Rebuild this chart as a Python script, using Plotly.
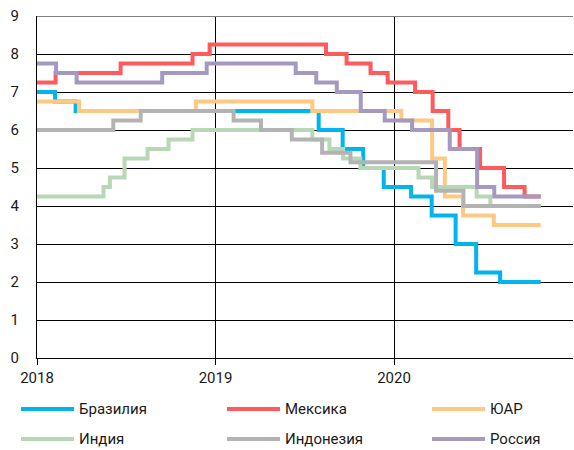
import plotly.graph_objects as go

END = "2020-10-27"

names = ["Бразилия", "Мексика", "ЮАР", "Индия", "Индонезия", "Россия"]
colors = ["#00B4EE", "#FF5A5C", "#FFC983", "#B8D8B5", "#B3B3B3", "#A599C1"]

brazil_dates = ["2018-01-01", "2018-02-07", "2018-03-21", "2019-07-31", "2019-09-18", "2019-10-30",
                "2019-12-11", "2020-02-05", "2020-03-18", "2020-05-06", "2020-06-17", "2020-08-05", END]
brazil_vals = [7.0, 6.75, 6.5, 6.0, 5.5, 5.0, 4.5, 4.25, 3.75, 3.0, 2.25, 2.0, 2.0]

mexico_dates = ["2018-01-01", "2018-02-08", "2018-06-21", "2018-11-15", "2018-12-20", "2019-08-15",
                "2019-09-26", "2019-11-14", "2019-12-19", "2020-02-13", "2020-03-20", "2020-04-21",
                "2020-05-14", "2020-06-25", "2020-08-13", "2020-09-24", END]
mexico_vals = [7.25, 7.5, 7.75, 8.0, 8.25, 8.0, 7.75, 7.5, 7.25, 7.0, 6.5, 6.0, 5.5, 5.0, 4.5, 4.25, 4.25]

sa_dates = ["2018-01-01", "2018-03-28", "2018-11-22", "2019-07-18", "2020-01-16", "2020-03-19",
            "2020-04-14", "2020-05-21", "2020-07-23", END]
sa_vals = [6.75, 6.5, 6.75, 6.5, 6.25, 5.25, 4.25, 3.75, 3.5, 3.5]

india_dates = ["2018-01-01", "2018-05-17", "2018-05-30", "2018-06-29", "2018-08-15", "2018-09-27",
               "2018-11-15", "2019-07-18", "2019-08-22", "2019-09-19", "2019-10-24", "2020-02-20",
               "2020-03-19", "2020-06-18", "2020-07-16", END]
india_vals = [4.25, 4.5, 4.75, 5.25, 5.5, 5.75, 6.0, 5.75, 5.5, 5.25, 5.0, 4.75, 4.5, 4.25, 4.0, 4.0]

indonesia_dates = ["2018-01-01", "2018-06-06", "2018-08-01", "2019-02-07", "2019-04-04", "2019-06-06",
                   "2019-08-07", "2019-10-04", "2020-03-27", "2020-05-22", END]
indonesia_vals = [6.0, 6.25, 6.5, 6.25, 6.0, 5.75, 5.4, 5.15, 4.4, 4.0, 4.0]

russia_dates = ["2018-01-01", "2018-02-09", "2018-03-23", "2018-09-14", "2018-12-14", "2019-06-14",
                "2019-07-26", "2019-09-06", "2019-10-25", "2019-12-13", "2020-02-07", "2020-04-24",
                "2020-06-19", "2020-07-24", END]
russia_vals = [7.75, 7.5, 7.25, 7.5, 7.75, 7.5, 7.25, 7.0, 6.5, 6.25, 6.0, 5.5, 4.5, 4.25, 4.25]

x_tick_vals = ["2018-01-01", "2019-01-01", "2020-01-01"]
x_tick_text = ["2018", "2019", "2020"]

series = [
    (brazil_dates, brazil_vals),
    (mexico_dates, mexico_vals),
    (sa_dates, sa_vals),
    (india_dates, india_vals),
    (indonesia_dates, indonesia_vals),
    (russia_dates, russia_vals),
]

fig = go.Figure()
for (d, v), n, c in zip(series, names, colors):
    fig.add_trace(go.Scatter(x=d, y=v, name=n, mode="lines",
                             line=dict(color=c, width=4, shape="hv"), showlegend=False))

# plot area geometry (pixels) for manual legend placement
L, R, T, B = 37, 573, 16, 358
W, H = R - L, B - T

def px_x(p):
    return (p - L) / W

def px_y(p):
    return (B - p) / H

col_x = [21, 227, 432]
row_y = [409, 439]
shapes = []
annotations = []
for i, (n, c) in enumerate(zip(names, colors)):
    r, k = divmod(i, 3)
    x0 = col_x[k]
    y = row_y[r]
    shapes.append(dict(type="line", xref="paper", yref="paper",
                       x0=px_x(x0), x1=px_x(x0 + 53), y0=px_y(y), y1=px_y(y),
                       line=dict(color=c, width=4)))
    annotations.append(dict(xref="paper", yref="paper", x=px_x(x0 + 56), y=px_y(y),
                            text=n, showarrow=False, xanchor="left", yanchor="middle",
                            font=dict(family="Roboto", size=15, color="#1a1a1a")))

shapes.append(dict(type="line", xref="paper", yref="y", x0=0, x1=1, y0=9, y1=9,
                   line=dict(color="#808080", width=2)))

fig.update_layout(
    width=574, height=450,
    margin=dict(l=L, r=574 - R, t=T, b=450 - B, autoexpand=False),
    plot_bgcolor="white", paper_bgcolor="white",
    font=dict(family="Roboto", size=15, color="#1a1a1a"),
    showlegend=False,
    shapes=shapes,
    annotations=annotations,
    xaxis=dict(type="date", range=["2018-01-01", "2021-01-01"],
               tickvals=x_tick_vals, ticktext=x_tick_text,
               showgrid=True, gridcolor="black", gridwidth=1,
               showline=True, linecolor="black", linewidth=1,
               ticks="outside", ticklen=6, tickcolor="black",
               ticklabelstandoff=0, zeroline=False, automargin=False),
    yaxis=dict(range=[0, 9], tick0=0, dtick=1,
               showgrid=True, gridcolor="black", gridwidth=1,
               showline=True, linecolor="black", linewidth=1,
               ticks="", ticklabelstandoff=14, zeroline=False, automargin=False),
)

fig.write_html("out.html", config={"displayModeBar": False},
               post_script="document.body.style.margin='0';document.body.style.padding='0';")
